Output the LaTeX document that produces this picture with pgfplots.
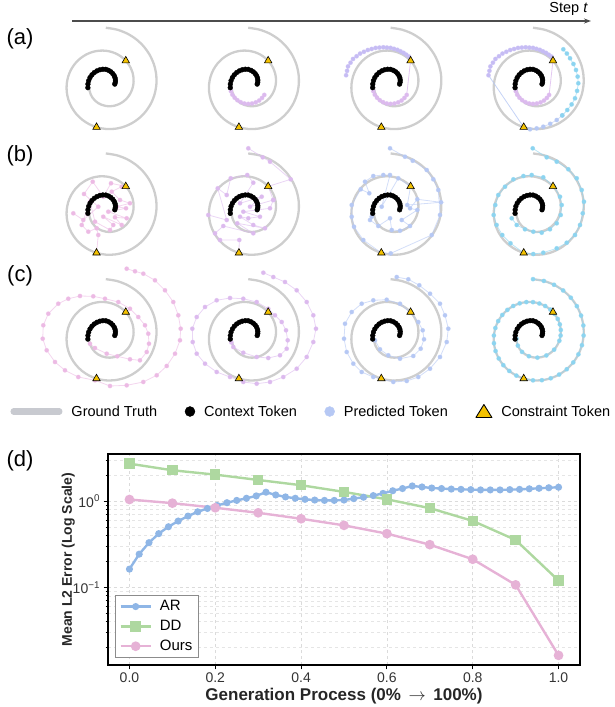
\documentclass[border=0pt]{standalone}
\usepackage{fontspec}
\setmainfont{Liberation Sans}
\usepackage{pgfplots}
\usepackage{pgfplotstable}
\pgfplotsset{compat=1.18}
\usetikzlibrary{arrows.meta}

\definecolor{gtgray}{RGB}{206,206,206}
\definecolor{leggray}{RGB}{200,202,208}
\definecolor{gold}{RGB}{244,194,0}
\definecolor{cpink}{RGB}{236,186,228}
\definecolor{clilac}{RGB}{220,186,238}
\definecolor{cviolet}{RGB}{198,188,244}
\definecolor{cblue}{RGB}{182,200,244}
\definecolor{ccyan}{RGB}{140,212,240}
\definecolor{arcol}{RGB}{143,182,230}
\definecolor{ddcol}{RGB}{174,216,160}
\definecolor{ourcol}{RGB}{230,178,214}

\pgfplotstableread{
x y
-4.507 -0.896
-4.427 -1.835
-4.145 -2.773
-3.665 -3.665
-2.991 -4.471
-2.136 -5.153
-1.126 -5.663
0 -5.969
1.202 -6.048
2.437 -5.878
3.646 -5.450
4.776 -4.776
5.776 -3.865
6.604 -2.737
7.204 -1.432
7.540 0
7.589 1.509
7.330 3.038
6.755 4.520
5.886 5.886
4.738 7.082
3.339 8.055
1.738 8.745
0 9.111
-1.815 9.130
-3.640 8.781
-5.393 8.061
-6.997 6.997
-8.387 5.611
-9.507 3.941
-10.286 2.045
-10.682 0
-10.671 -2.121
-10.233 -4.241
-9.366 -6.266
-8.107 -8.107
-6.485 -9.692
-4.542 -10.958
-2.351 -11.827
0 -12.252
2.428 -12.212
4.843 -11.684
7.140 -10.671
9.218 -9.218
10.998 -7.358
12.410 -5.144
13.368 -2.657
13.823 0
13.753 2.734
13.135 5.445
11.977 8.013
10.328 10.328
8.231 12.303
5.745 13.861
2.964 14.909
0 15.394
}\gtdata

\pgfplotstableread{
x y
2.457 0
2.603 0.517
2.633 1.092
2.531 1.694
2.292 2.292
1.912 2.858
1.392 3.359
0.747 3.758
0 4.028
-0.806 4.055
-1.624 3.918
-2.417 3.612
-3.148 3.148
-3.789 2.535
-4.311 1.787
-4.681 0.931
-4.878 0
-4.900 -0.974
}\ctxdata

\pgfplotstableread{
x y
5.458 6.390
-2.538 -11.769
}\tridata

\pgfplotstableread{
x y
-4.91 -0.98
-4.71 -1.95
-4.32 -2.89
-3.71 -3.71
-2.95 -4.40
-2.05 -4.94
-1.05 -5.30
0 -5.40
1.05 -5.30
2.07 -4.99
3.00 -4.49
3.78 -3.78
4.40 -2.95
}\pinkarc

\pgfplotstableread{
x y
5.03 7.52
4.29 8.04
3.54 8.55
2.70 8.96
1.86 9.37
0.93 9.64
0 9.90
-1.00 9.98
-2.00 10.06
-3.05 9.98
-4.10 9.89
-5.17 9.60
-6.23 9.31
-7.29 8.83
-8.34 8.34
-9.30 7.61
-10.26 6.87
-10.95 5.85
-11.64 4.83
-11.90 3.63
-12.16 2.42
}\violetarc

\pgfplotstableread{
x y
-2.538 -11.769
-0.82 -12.35
1.00 -12.10
2.81 -11.64
4.70 -10.85
6.48 -9.81
8.00 -8.55
}\bluearc

\pgfplotstableread{
x y
8.00 -8.55
9.37 -7.08
10.55 -5.55
11.48 -3.88
12.05 -1.85
12.38 0.22
12.20 2.05
11.75 3.85
11.05 5.50
10.11 7.05
9.25 8.35
8.28 9.51
}\cyanarc

\pgfplotstableread{
x y
-8.88 -0.96
-6.15 -2.79
-2.05 0.85
-5.96 4.32
-3.58 7.68
-0.68 3.58
1.42 7.24
5.458 6.390
4.34 6.31
1.61 4.95
3.88 2.68
6.61 1.78
2.98 0.85
5.52 0.41
0.68 -0.52
5.71 -2.32
2.51 -2.05
4.34 -4.15
-0.68 -1.89
2.05 -4.15
1.15 -5.52
-2.95 -3.25
-4.32 2.21
-6.58 -4.15
-4.78 -5.98
-2.49 -5.05
-2.05 -6.89
-2.538 -11.769
}\bone

\pgfplotstableread{
x y
-10.9 -1.42
-5.87 -2.79
-8.33 5.87
-5.87 4.04
-4.78 8.61
-0.25 9.51
1.39 7.40
-2.24 1.78
3.69 3.58
0.49 0.85
6.86 2.68
5.96 0.41
-1.34 -0.52
3.22 -1.89
0.03 -2.32
-2.24 -1.89
1.39 -4.15
4.59 -5.05
-2.98 -3.69
1.39 -6.42
-6.80 -4.43
-9.07 -6.42
-7.70 -8.25
-2.43 -8.25
-2.538 -11.769
}\btwoa

\pgfplotstableread{
x y
0.03 16.8
3.96 14.34
5.96 13.14
11.61 8.33
5.458 6.390
6.86 2.68
}\btwob

\pgfplotstableread{
x y
-5.16 -1.89
-5.63 -2.79
-3.36 -4.43
-0.16 -2.32
0.30 -5.52
2.57 -5.71
5.30 -4.43
3.03 -2.79
7.30 -0.05
5.30 0.41
7.30 2.87
13.77 2.05
4.56 1.31
5.458 6.390
2.10 8.61
-2.43 0.85
-0.16 9.51
-1.99 9.51
-4.73 9.23
-7.00 7.68
-5.82 4.51
-8.17 5.60
-10.63 1.31
-10.63 -1.89
-10.00 -4.62
-7.46 -8.25
-2.538 -11.769
0.03 -11.90
11.23 -6.89
13.50 -1.42
13.03 5.41
11.67 8.33
9.86 10.87
6.04 13.40
3.93 14.50
-0.16 16.8
}\bthree

\pgfplotstableread{
x y
-5.82 -2.32
-4.45 -4.15
-2.19 -5.33
0.08 -5.98
2.38 -6.26
4.64 -5.33
6.48 -3.69
7.57 -1.42
7.84 1.31
7.38 3.58
5.74 6.31
2.81 8.88
-0.36 9.51
-2.62 9.23
-5.36 8.33
-7.65 6.31
-9.48 4.04
-10.30 1.31
-10.75 -1.42
-9.95 -4.15
-8.39 -6.89
-6.15 -9.15
-2.538 -11.769
0.08 -12.08
2.81 -11.72
6.48 -10.52
9.21 -8.99
11.48 -6.89
12.84 -4.15
13.58 -0.96
13.93 2.21
13.31 5.41
11.94 8.61
9.65 11.07
6.48 13.14
3.74 14.34
-0.08 16.8
}\bfour

\pgfplotstableread{
x y
-4.32 -2.24
-2.95 -3.42
0.25 -4.97
3.14 -5.68
6.61 -6.50
9.34 -6.78
11.18 -4.51
11.80 -2.24
11.61 0.49
10.71 2.79
8.88 5.05
6.61 7.32
3.42 9.15
-0.22 10.05
-3.42 10.71
-7.05 10.79
-10.25 10.05
-12.98 8.69
-15.71 5.96
-17.08 2.79
-17.24 -0.87
-16.15 -4.04
-13.88 -7.24
-11.15 -9.51
-7.51 -11.34
-2.95 -12.24
1.15 -13.80
5.71 -13.61
10.25 -12.70
13.91 -10.87
16.64 -8.33
18.91 -4.97
20.27 -1.31
20.46 1.86
19.81 5.52
18.44 9.15
16.17 12.35
13.44 15.08
10.25 16.89
7.98 17.54
5.71 18.25
}\cone

\pgfplotstableread{
x y
-4.60 -1.90
-4.07 -3.14
-1.34 -4.70
2.32 -5.87
5.49 -6.15
8.69 -5.41
10.52 -3.61
10.79 -1.31
10.33 1.42
9.15 3.69
7.32 5.52
5.49 7.32
2.32 9.15
-1.34 10.05
-4.97 10.25
-8.61 9.62
-11.80 7.79
-14.07 5.05
-15.27 1.86
-15.16 -1.78
-14.07 -4.97
-11.80 -7.70
-8.61 -9.97
-4.97 -11.34
-1.34 -12.70
2.32 -13.17
5.96 -12.70
9.59 -11.34
13.25 -9.07
15.98 -5.87
17.79 -1.78
18.52 1.86
17.79 5.52
15.98 9.15
13.25 12.35
10.05 14.62
6.86 15.98
4.13 17.16
}\ctwo

\pgfplotstableread{
x y
-4.26 -1.31
-2.90 -3.77
-0.63 -5.41
2.57 -6.34
6.20 -5.60
8.22 -3.61
9.13 -1.04
8.77 1.42
7.57 3.69
5.30 6.42
2.57 8.69
-1.07 9.78
-4.73 9.62
-7.90 8.69
-10.63 6.42
-12.46 3.22
-12.73 -0.87
-12.00 -4.51
-10.19 -7.70
-7.90 -9.97
-4.73 -11.34
0.74 -12.70
4.40 -12.43
7.57 -11.34
10.77 -9.07
13.50 -5.87
15.33 -1.78
15.77 1.86
14.86 5.52
13.50 8.69
10.77 11.42
7.84 13.72
4.84 15.36
1.67 15.98
}\cthree

\pgfplotstableread{
x y
-4.507 -0.896
-4.145 -2.773
-2.991 -4.471
-1.126 -5.663
1.202 -6.048
3.646 -5.450
5.776 -3.865
7.204 -1.432
7.540 0
7.589 1.509
7.330 3.038
6.755 4.520
5.886 5.886
4.738 7.082
3.339 8.055
1.738 8.745
0 9.111
-1.815 9.130
-3.640 8.781
-5.393 8.061
-6.997 6.997
-8.387 5.611
-9.507 3.941
-10.286 2.045
-10.682 0
-10.671 -2.121
-10.233 -4.241
-9.366 -6.266
-8.107 -8.107
-6.485 -9.692
-4.542 -10.958
-2.351 -11.827
0 -12.252
2.428 -12.212
4.843 -11.684
7.140 -10.671
9.218 -9.218
10.998 -7.358
12.410 -5.144
13.368 -2.657
13.823 0
13.753 2.734
13.135 5.445
11.977 8.013
10.328 10.328
8.231 12.303
5.745 13.861
2.964 14.909
0 15.394
}\cfour

\pgfplotstableread{
x y
0.0000 0.163
0.0227 0.243
0.0455 0.330
0.0682 0.420
0.0909 0.505
0.1136 0.588
0.1364 0.671
0.1591 0.753
0.1818 0.823
0.2045 0.890
0.2273 0.960
0.2500 1.020
0.2727 1.080
0.2955 1.150
0.3182 1.270
0.3409 1.180
0.3636 1.120
0.3864 1.080
0.4091 1.050
0.4318 1.030
0.4545 1.020
0.4773 1.020
0.5000 1.030
0.5227 1.070
0.5455 1.110
0.5682 1.160
0.5909 1.230
0.6136 1.320
0.6364 1.400
0.6591 1.500
0.6818 1.460
0.7045 1.420
0.7273 1.400
0.7500 1.380
0.7727 1.370
0.7955 1.360
0.8182 1.350
0.8409 1.350
0.8636 1.350
0.8864 1.360
0.9091 1.370
0.9318 1.390
0.9545 1.410
0.9773 1.430
1.0000 1.450
}\ardata

\pgfplotstableread{
x y
0.0 2.72
0.1 2.28
0.2 2.03
0.3 1.76
0.4 1.53
0.5 1.28
0.6 1.05
0.7 0.83
0.8 0.59
0.9 0.355
1.0 0.12
}\dddata

\pgfplotstableread{
x y
0.0 1.045
0.1 0.948
0.2 0.838
0.3 0.733
0.4 0.625
0.5 0.524
0.6 0.420
0.7 0.313
0.8 0.212
0.9 0.107
1.0 0.0163
}\ourdata

\pgfplotsset{
  spiral/.style={hide axis, clip=false, anchor=center, x=3.66bp, y=3.66bp,
     xmin=-22, xmax=22, ymin=-22, ymax=22},
  gtline/.style={color=gtgray, line width=2.3bp, smooth, no marks},
  pred/.style={draw=#1, draw opacity=0.6, line width=0.8bp, mark=*, mark size=2.0bp,
     mark options={draw=none, fill=#1}},
  conn/.style={draw=#1, draw opacity=0.8, line width=0.8bp, no marks},
  ctx/.style={only marks, mark=*, mark size=2.4bp, mark options={fill=black, draw=none}},
  tri/.style={only marks, mark=triangle*, mark size=4.3bp,
     mark options={fill=gold, draw=black, line width=0.6bp}},
}
\newcommand{\gtplot}{\addplot[gtline] table {\gtdata};}
\newcommand{\fixplots}{\addplot[ctx] table {\ctxdata};\addplot[tri] table {\tridata};}

\begin{document}
\begin{tikzpicture}
\useasboundingbox (0,0) rectangle (615bp,-707bp);
\draw[line width=1.1bp, black!70, -{Stealth[length=7bp,width=5bp]}] (72bp,-21bp) -- (591bp,-21bp);
\node[anchor=east, font=\fontsize{14.5bp}{17bp}\selectfont, inner sep=0pt] at (588bp,-8.5bp) {Step \textit{t}};
\node[font=\fontsize{22bp}{26bp}\selectfont] at (20bp,-39bp) {(a)};
\node[font=\fontsize{22bp}{26bp}\selectfont] at (20bp,-156bp) {(b)};
\node[font=\fontsize{22bp}{26bp}\selectfont] at (20bp,-276bp) {(c)};
\node[font=\fontsize{22bp}{26bp}\selectfont] at (20bp,-461bp) {(d)};

% ---------- row (a)
\begin{axis}[spiral, at={(105.8bp,-84.1bp)}]
\gtplot
\fixplots
\end{axis}
\begin{axis}[spiral, at={(248.2bp,-84.1bp)}]
\gtplot
\addplot[pred=clilac] table {\pinkarc};
\fixplots
\end{axis}
\begin{axis}[spiral, at={(390.6bp,-84.1bp)}]
\gtplot
\addplot[pred=clilac] table {\pinkarc};
\addplot[conn=clilac] coordinates {(4.40,-2.95) (5.458,6.390)};
\addplot[pred=cviolet] table {\violetarc};
\fixplots
\end{axis}
\begin{axis}[spiral, at={(533.0bp,-84.1bp)}]
\gtplot
\addplot[pred=clilac] table {\pinkarc};
\addplot[conn=clilac] coordinates {(4.40,-2.95) (5.458,6.390)};
\addplot[pred=cviolet] table {\violetarc};
\addplot[conn=cblue] coordinates {(-12.16,2.42) (-2.538,-11.769)};
\addplot[pred=cblue] table {\bluearc};
\addplot[pred=ccyan] table {\cyanarc};
\fixplots
\end{axis}

% ---------- row (b)
\begin{axis}[spiral, at={(105.8bp,-209.8bp)}]
\gtplot
\addplot[pred=cpink] table {\bone};
\fixplots
\end{axis}
\begin{axis}[spiral, at={(248.2bp,-209.8bp)}]
\gtplot
\addplot[pred=clilac] table {\btwoa};
\addplot[pred=clilac] table {\btwob};
\fixplots
\end{axis}
\begin{axis}[spiral, at={(390.6bp,-209.8bp)}]
\gtplot
\addplot[pred=cblue] table {\bthree};
\fixplots
\end{axis}
\begin{axis}[spiral, at={(533.0bp,-209.8bp)}]
\gtplot
\addplot[pred=ccyan] table {\bfour};
\fixplots
\end{axis}

% ---------- row (c)
\begin{axis}[spiral, at={(105.8bp,-335.5bp)},
  legend columns=4,
  legend style={at={(1.770,0.0312)}, anchor=center, draw=none, fill=none, inner sep=0pt,
     font=\fontsize{14.5bp}{17bp}\selectfont,
     nodes={inner sep=0pt},
     /tikz/every odd column/.append style={column sep=9bp},
     /tikz/every even column/.append style={column sep=27.6bp}},
]
\addlegendimage{legend image code/.code={\draw[leggray, line width=6bp, line cap=round] (3bp,0bp) -- (49bp,0bp);}}
\addlegendentry{Ground Truth}
\addlegendimage{legend image code/.code={\fill[black] (5bp,0bp) circle (5bp);}}
\addlegendentry{Context Token}
\addlegendimage{legend image code/.code={\fill[cblue] (5bp,0bp) circle (5bp);}}
\addlegendentry{Predicted Token}
\addlegendimage{legend image code/.code={\draw[fill=gold, line width=0.9bp, line join=round] (0bp,-6bp) -- (16bp,-6bp) -- (8bp,7bp) -- cycle;}}
\addlegendentry{Constraint Token}
\gtplot
\addplot[pred=cpink] table {\cone};
\fixplots
\end{axis}
\begin{axis}[spiral, at={(248.2bp,-335.5bp)}]
\gtplot
\addplot[pred=clilac] table {\ctwo};
\fixplots
\end{axis}
\begin{axis}[spiral, at={(390.6bp,-335.5bp)}]
\gtplot
\addplot[pred=cblue] table {\cthree};
\fixplots
\end{axis}
\begin{axis}[spiral, at={(533.0bp,-335.5bp)}]
\gtplot
\addplot[pred=ccyan] table {\cfour};
\fixplots
\end{axis}

% ---------- panel (d)
\begin{axis}[
  at={(108bp,-665bp)}, anchor=south west, scale only axis,
  width=472bp, height=211bp,
  ymode=log, xmin=-0.05, xmax=1.05, ymin=0.0126, ymax=3.52,
  xtick={0,0.2,0.4,0.6,0.8,1}, xticklabels={0.0,0.2,0.4,0.6,0.8,1.0},
  ytick={0.1,1}, yticklabels={10\textsuperscript{−1},10\textsuperscript{0}},
  minor ytick={0.02,0.03,0.04,0.05,0.06,0.07,0.08,0.09,0.2,0.3,0.4,0.5,0.6,0.7,0.8,0.9,2,3},
  xmajorgrids, ymajorgrids, yminorgrids,
  major grid style={dashed, black!14, line width=0.6bp},
  minor grid style={dashed, black!10, line width=0.5bp},
  axis line style={line width=1.3bp, black},
  tick align=outside, xtick pos=bottom, ytick pos=left,
  major tick length=4.5bp, minor tick length=2.5bp,
  every tick/.style={black, line width=0.9bp},
  tick label style={font=\fontsize{14bp}{16bp}\selectfont, text=black!80},
  /pgf/number format/assume math mode=true,
  xlabel={Generation Process (0\% \,$\rightarrow$\, 100\%)},
  ylabel={Mean L2 Error (Log Scale)},
  xlabel shift=-2bp, ylabel shift=-9bp,
  xlabel style={font=\bfseries\fontsize{17bp}{20bp}\selectfont, text=black!85},
  ylabel style={font=\bfseries\fontsize{14bp}{17bp}\selectfont, text=black!85},
  legend style={at={(0.015,0.035)}, anchor=south west, draw=black!45, line width=0.8bp,
     font=\fontsize{15bp}{18bp}\selectfont, inner xsep=4bp, inner ysep=3bp, row sep=4bp,
     /tikz/every odd column/.append style={column sep=6bp}},
  legend cell align=left,
  legend image code/.code={\draw[mark repeat=2,mark phase=2] plot coordinates {(0bp,0bp) (15bp,0bp) (30bp,0bp)};},
]
\addplot[color=arcol, line width=2.4bp, mark=*, mark size=2.3bp, mark options={fill=arcol, draw=none}] table {\ardata};
\addlegendentry{AR}
\addplot[color=ddcol, line width=2.4bp, mark=square*, mark size=4bp, mark options={fill=ddcol, draw=none}] table {\dddata};
\addlegendentry{DD}
\addplot[color=ourcol, line width=2.4bp, mark=*, mark size=3.6bp, mark options={fill=ourcol, draw=none}] table {\ourdata};
\addlegendentry{Ours}
\end{axis}
\end{tikzpicture}
\end{document}
